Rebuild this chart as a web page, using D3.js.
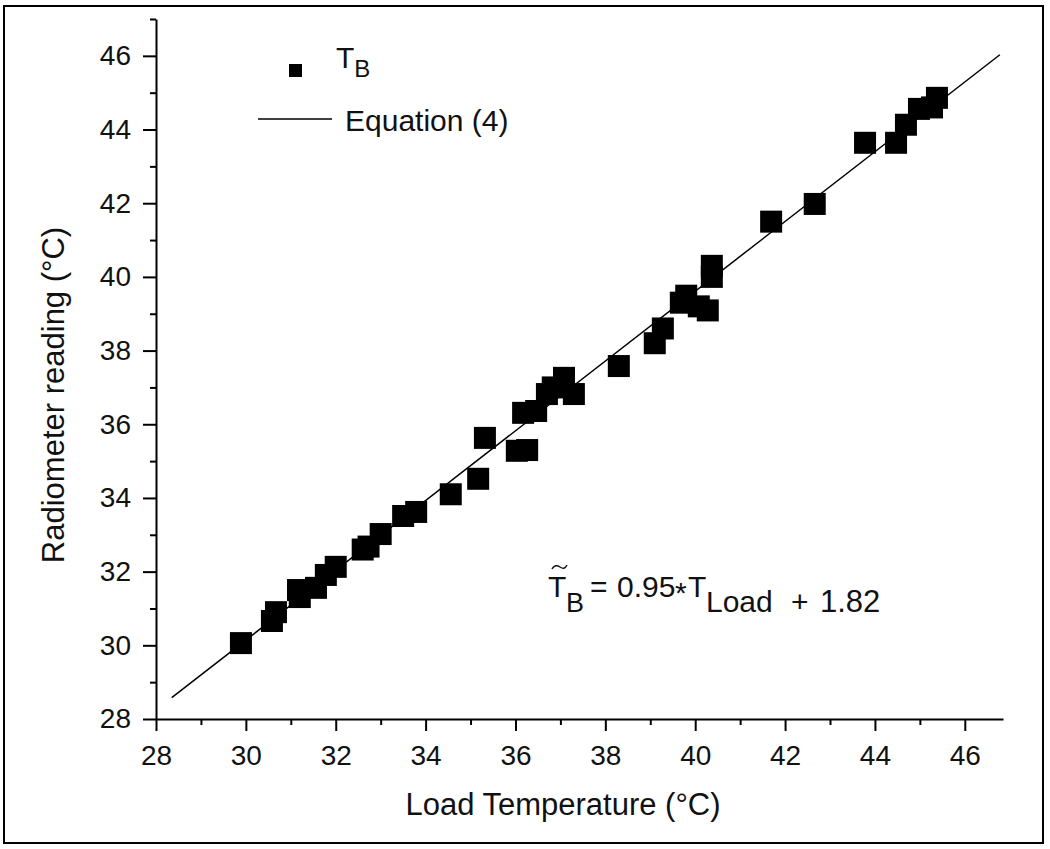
<!DOCTYPE html>
<html>
<head>
<meta charset="utf-8">
<script src="https://cdn.jsdelivr.net/npm/d3@7"></script>
<style>
    body { margin: 0; background: #fff; }
    svg text { font-family: "Liberation Sans", Arial, sans-serif; fill: #111; }
    .axis path, .axis line { stroke: #000; }
</style>
</head>
<body>
<svg id="chart" width="1050" height="849"></svg>
<script>
// Load temperature (x) and radiometer reading (y)
var loadTemp = [29.89, 30.58, 30.67, 31.16, 31.2, 31.56, 31.78, 32.0, 32.6, 32.73,
    33.0, 33.5, 33.79, 34.56, 35.17, 35.32, 36.03, 36.26, 36.17, 36.46,
    36.7, 36.83, 37.08, 37.3, 38.3, 39.1, 39.28, 39.68, 39.8, 40.28,
    40.08, 40.37, 40.37, 41.69, 42.66, 43.78, 44.47, 44.69, 44.98, 45.27, 45.38];
var radiometer = [30.06, 30.66, 30.9, 31.5, 31.31, 31.56, 31.91, 32.13, 32.6, 32.68,
    33.02, 33.51, 33.62, 34.1, 34.52, 35.63, 35.28, 35.3, 36.31, 36.36,
    36.82, 37.0, 37.26, 36.82, 37.58, 38.2, 38.6, 39.3, 39.49, 39.09,
    39.2, 40.0, 40.3, 41.5, 41.98, 43.64, 43.64, 44.13, 44.56, 44.6, 44.86];

// Equation (4) line, end points
var fitX = [28.35, 46.78];
var fitY = [28.58, 46.03];

// tick values
var xMajor = [28, 30, 32, 34, 36, 38, 40, 42, 44, 46];
var xMinor = [29, 31, 33, 35, 37, 39, 41, 43, 45];
var yMajor = [28, 30, 32, 34, 36, 38, 40, 42, 44, 46];
var yMinor = [29, 31, 33, 35, 37, 39, 41, 43, 45, 47];

var svg = d3.select("#chart");

// outer frame
svg.append("rect")
    .attr("x", 4).attr("y", 6)
    .attr("width", 1039).attr("height", 837)
    .attr("fill", "none")
    .attr("stroke", "#000")
    .attr("stroke-width", 2);

var x = d3.scaleLinear().domain([28, 46.85]).range([156, 1003]);
var y = d3.scaleLinear().domain([28, 47]).range([719, 19]);

// X axis (major + minor)
var gx = svg.append("g")
    .attr("class", "axis")
    .attr("transform", "translate(0,719)")
    .call(d3.axisBottom(x).tickValues(xMajor).tickSize(12).tickSizeOuter(0).tickPadding(10));
gx.select(".domain").attr("stroke-width", 2);
gx.selectAll(".tick line").attr("stroke-width", 2);
gx.selectAll(".tick text").attr("font-size", 28).attr("dy", "0.85em");

svg.append("g")
    .attr("class", "axis")
    .attr("transform", "translate(0,719)")
    .call(d3.axisBottom(x).tickValues(xMinor).tickSize(6).tickSizeOuter(0).tickFormat(""))
    .call(function (g) { g.select(".domain").remove(); })
    .selectAll("line").attr("stroke-width", 2);

// Y axis (major + minor)
var gy = svg.append("g")
    .attr("class", "axis")
    .attr("transform", "translate(156,0)")
    .call(d3.axisLeft(y).tickValues(yMajor).tickSize(13).tickSizeOuter(0).tickPadding(12));
gy.select(".domain").attr("stroke-width", 2);
gy.selectAll(".tick line").attr("stroke-width", 2);
gy.selectAll(".tick text").attr("font-size", 28);

svg.append("g")
    .attr("class", "axis")
    .attr("transform", "translate(156,0)")
    .call(d3.axisLeft(y).tickValues(yMinor).tickSize(6).tickSizeOuter(0).tickFormat(""))
    .call(function (g) { g.select(".domain").remove(); })
    .selectAll("line").attr("stroke-width", 2);

// axis titles
svg.append("text")
    .attr("x", 563).attr("y", 815)
    .attr("text-anchor", "middle")
    .attr("font-size", 31)
    .text("Load Temperature (°C)");

svg.append("text")
    .attr("transform", "translate(64,395) rotate(-90)")
    .attr("text-anchor", "middle")
    .attr("font-size", 31)
    .text("Radiometer reading (°C)");

// fitted line
svg.append("line")
    .attr("x1", x(fitX[0])).attr("y1", y(fitY[0]))
    .attr("x2", x(fitX[1])).attr("y2", y(fitY[1]))
    .attr("stroke", "#000")
    .attr("stroke-width", 1.5);

// data points - square markers
var size = 22;
svg.append("g")
    .selectAll("rect")
    .data(loadTemp)
    .enter().append("rect")
        .attr("x", function (d) { return x(d) - size / 2; })
        .attr("y", function (d, i) { return y(radiometer[i]) - size / 2; })
        .attr("width", size)
        .attr("height", size)
        .attr("fill", "#000");

// legend
svg.append("rect")
    .attr("x", 289).attr("y", 64)
    .attr("width", 13).attr("height", 13)
    .attr("fill", "#000");
var lt = svg.append("text").attr("x", 336).attr("y", 68).attr("font-size", 30);
lt.append("tspan").text("T");
lt.append("tspan").attr("font-size", 24).attr("dy", 9).text("B");

svg.append("line")
    .attr("x1", 258).attr("x2", 332)
    .attr("y1", 119).attr("y2", 119)
    .attr("stroke", "#000").attr("stroke-width", 1.5);
svg.append("text")
    .attr("x", 345).attr("y", 131)
    .attr("font-size", 30)
    .text("Equation (4)");

// equation annotation
var eq = svg.append("g").attr("font-size", 30);
eq.append("text").attr("x", 548).attr("y", 597).text("T");
// tilde over the T
eq.append("path")
    .attr("d", "M552,569 C554,565 557,565 560,567 C563,569 565,569 567,565")
    .attr("fill", "none").attr("stroke", "#111").attr("stroke-width", 1.5);
eq.append("text").attr("x", 566).attr("y", 612).attr("font-size", 27).text("B");
eq.append("text").attr("x", 590).attr("y", 597).text("=");
eq.append("text").attr("x", 617).attr("y", 597).text("0.95");
eq.append("text").attr("x", 675).attr("y", 603).text("*");
eq.append("text").attr("x", 688).attr("y", 597).text("T");
eq.append("text").attr("x", 706).attr("y", 612).text("Load");
eq.append("text").attr("x", 791).attr("y", 612).text("+");
eq.append("text").attr("x", 820).attr("y", 612).attr("font-size", 31).text("1.82");
</script>
</body>
</html>
